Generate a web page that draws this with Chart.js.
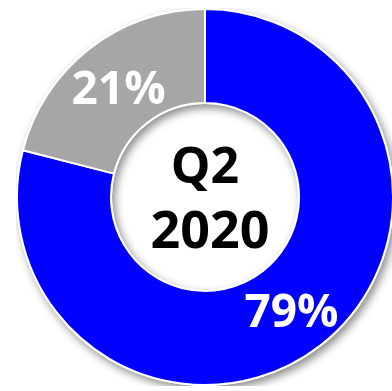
<!DOCTYPE html>
<html>
<head>
<meta charset="utf-8">
<script src="https://cdn.jsdelivr.net/npm/chart.js"></script>
<style>
  html, body { margin: 0; padding: 0; background: #fff; overflow: hidden; width: 392px; height: 391px; }
  #wrap { position: absolute; left: 16px; top: 8px; width: 378px; height: 378px; }
</style>
</head>
<body>
<div id="wrap"><canvas id="donut"></canvas></div>
<script>
// data
var labels = ['Done', 'Remaining'];
var values = [79, 21];
var colors = ['#0000FF', '#A6A6A6'];
var centerLines = ['Q2', '2020'];

// drop shadow under the ring (also gives the shaded hole edge)
var ringShadow = {
    id: 'ringShadow',
    beforeDatasetsDraw: function(chart) {
        var arc = chart.getDatasetMeta(0).data[0];
        if (!arc) return;
        var c = chart.ctx;
        c.save();
        c.shadowColor = 'rgba(0,0,0,0.45)';
        c.shadowBlur = 9;
        c.shadowOffsetX = 3;
        c.shadowOffsetY = 4;
        c.fillStyle = '#fff';
        c.beginPath();
        c.arc(arc.x, arc.y, arc.outerRadius + 1, 0, Math.PI * 2);
        c.arc(arc.x, arc.y, arc.innerRadius - 1, 0, Math.PI * 2, true);
        c.fill();
        c.restore();
    }
};

var textLayer = {
    id: 'textLayer',
    afterDatasetsDraw: function(chart) {
        var c = chart.ctx;
        var meta = chart.getDatasetMeta(0);
        var total = values.reduce(function(a, b) { return a + b; }, 0);
        c.save();
        c.textAlign = 'center';
        c.textBaseline = 'middle';
        c.fillStyle = '#fff';
        c.font = 'bold 46px "Open Sans", sans-serif';
        meta.data.forEach(function(arc, i) {
            var p = arc.tooltipPosition();
            var pct = Math.round(values[i] / total * 100) + '%';
            c.fillText(pct, p.x, p.y + 5);
        });
        // center text
        var a0 = meta.data[0];
        c.fillStyle = '#000';
        c.textBaseline = 'alphabetic';
        c.font = 'bold 50px "Open Sans", sans-serif';
        c.fillText(centerLines[0], a0.x, a0.y - 14);
        c.font = 'bold 52px "Open Sans", sans-serif';
        c.fillText(centerLines[1], a0.x + 5, a0.y + 51);
        c.restore();
    }
};

new Chart(document.getElementById('donut'), {
    type: 'doughnut',
    data: {
        labels: labels,
        datasets: [{
            data: values,
            backgroundColor: colors,
            borderColor: '#fff',
            borderWidth: 2
        }]
    },
    options: {
        responsive: true,
        maintainAspectRatio: false,
        animation: false,
        cutout: '50%',
        layout: { padding: 0 },
        plugins: {
            legend: { display: false },
            tooltip: { enabled: false }
        }
    },
    plugins: [ringShadow, textLayer]
});
</script>
</body>
</html>
